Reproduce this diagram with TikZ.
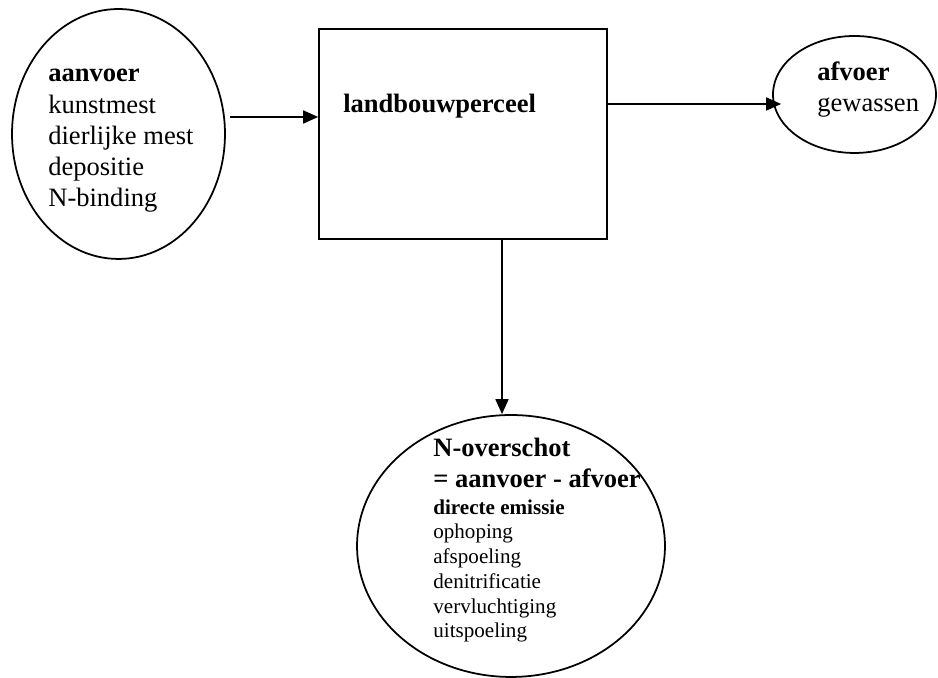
\documentclass[tikz,border=0pt]{standalone}
\usepackage{fontspec}
\setmainfont{Liberation Serif}
\usetikzlibrary{shapes.geometric,arrows.meta}
\newcommand\bigtxt{\fontsize{15.1pt}{17.8pt}\selectfont}
\newcommand\smalltxt{\fontsize{12pt}{14.1pt}\selectfont}

\begin{document}
\begin{tikzpicture}[x=0.02cm,y=0.02cm,>={Triangle[length=0.3cm,width=0.26cm]},
  bol/.style={draw,ellipse,line width=1pt,inner sep=0pt},
  txt/.style={align=left,inner sep=0pt,anchor=base west}]
\useasboundingbox (0,0) rectangle (938,678);

% ===== vormen =====
\node[bol,minimum width=4.26cm,minimum height=5cm] (aanvoer) at (118.5,544) {};
\node[draw,line width=1pt,minimum width=5.76cm,minimum height=4.2cm] (perceel) at (463,544) {};
\node[bol,minimum width=3.26cm,minimum height=2.34cm] (afvoer) at (854.5,583.5) {};
\node[bol,minimum width=6.16cm,minimum height=5.24cm] (overschot) at (511,132) {};

% ===== teksten (ankers op de basislijn van de laatste regel) =====
\node[txt,font=\bigtxt] (tAanvoer) at (48,471) {\textbf{aanvoer}\\kunstmest\\dierlijke mest\\depositie\\N-binding};
\node[txt,font=\bigtxt\bfseries] (tPerceel) at (343,565) {landbouwperceel};
\node[txt,font=\bigtxt] (tAfvoer) at (817,566) {\textbf{afvoer}\\gewassen};
\node[txt,font=\bigtxt\bfseries] (tOverschot) at (433,190) {N-overschot\\= aanvoer - afvoer};
\node[txt,font=\smalltxt] (tEmissie) at (433,40) {\textbf{directe emissie}\\ophoping\\afspoeling\\denitrificatie\\vervluchtiging\\uitspoeling};

% ===== pijlen =====
\coordinate (in) at (230,561);
\draw[->,line width=1pt] (in) -- (in -| perceel.west);
\draw[->,line width=1pt,shorten >=-0.18cm] (perceel.east |- 0,574) -- (afvoer.west |- 0,574);
\draw[->,line width=1pt] (perceel.south -| 502,0) -- (overschot.north -| 502,0);
\end{tikzpicture}
\end{document}
